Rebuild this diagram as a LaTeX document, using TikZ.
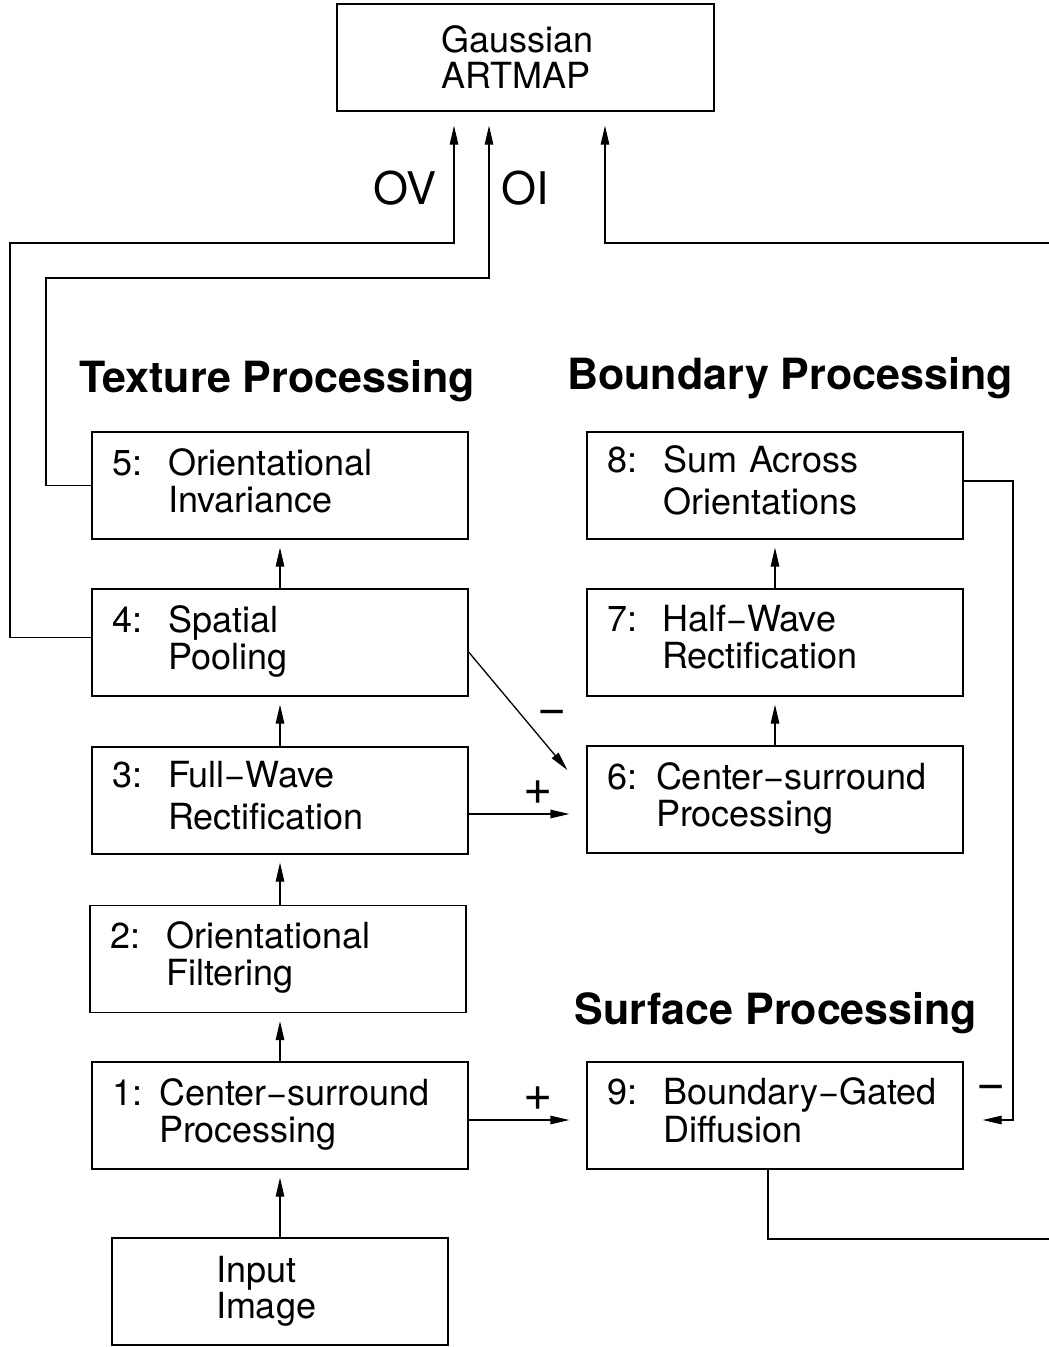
\documentclass[tikz,border=0pt]{standalone}
\usepackage{fontspec}
\setmainfont{TeX Gyre Heros}
\usetikzlibrary{arrows.meta}
\tikzset{>/.tip={Triangle[length=19pt,width=8.5pt]},
  stagebox/.style={draw, line width=1.3pt, text width=336pt, inner xsep=20pt,
    minimum height=107pt, align=left, font=\fontsize{36}{36}\selectfont},
  endbox/.style={draw, line width=1.3pt, inner xsep=104pt, minimum height=107pt,
    align=left, font=\fontsize{36}{36}\selectfont},
  heading/.style={font=\fontsize{43}{43}\selectfont\bfseries},
  tag/.style={font=\fontsize{45}{45}\selectfont},
  sign/.style={font=\fontsize{50}{50}\selectfont, inner sep=0pt},
  flow/.style={->, line width=1.3pt, shorten >=8pt}}
\newcommand{\stage}[4][26pt]{\begin{tabular}{@{}l@{\hspace{#1}}l@{}}#2: & #3\\ & #4\end{tabular}}

\begin{document}
\begin{tikzpicture}[x=1pt, y=-1pt]
\useasboundingbox (0,0) rectangle (1049,1347);

\node[endbox, text width=169pt] (art) at (525.5,57.5) {Gaussian\\ARTMAP};
\node[endbox, text width=128pt] (inp) at (280,1291.5) {Input\\Image};

% texture side
\node[stagebox] (b5) at (280,485.5) {\stage{5}{Orientational}{Invariance}};
\node[stagebox] (b4) at (280,642.5) {\stage{4}{Spatial}{Pooling}};
\node[stagebox] (b3) at (280,800.5) {\stage{3}{Full−Wave}{\rule{0pt}{31pt}Rectification}};
\node[stagebox] (b2) at (278,959)   {\stage{2}{Orientational}{Filtering}};
\node[stagebox] (b1) at (280,1115.5) {\stage[17pt]{1}{Center−surround}{Processing}};

% boundary and surface side
\node[stagebox] (b8) at (775,485.5) {\stage{8}{Sum Across}{\rule{0pt}{31pt}Orientations}};
\node[stagebox] (b7) at (775,642.5) {\stage[25pt]{7}{Half−Wave}{Rectification}};
\node[stagebox] (b6) at (775,799.5) {\stage[19pt]{6}{Center−surround}{Processing}};
\node[stagebox] (b9) at (775,1115.5) {\stage{9}{Boundary−Gated}{Diffusion}};

\node[heading] (tex) at (277,381) {Texture Processing};
\node[heading] (bnd) at (790,378) {Boundary Processing};
\node[heading] (srf) at (776,1013) {Surface Processing};

\node[tag] (ov) at (405,188) {OV};
\node[tag] (oi) at (525,188) {OI};

% upward flow
\draw[flow] (inp) -- (b1);
\draw[flow] (b1.north) -- (b1.north |- b2.south);
\draw[flow] (b3.south |- b2.north) -- (b3.south);
\draw[flow] (b3) -- (b4);
\draw[flow] (b4) -- (b5);
\draw[flow] (b6) -- (b7);
\draw[flow] (b7) -- (b8);

% to the classifier
\draw[flow, shorten >=14pt] ([yshift=5pt]b4.west) -| (10,243) -| ([xshift=-71.5pt]art.south);
\draw[flow, shorten >=14pt] (b5.west) -| (46,278) -| ([xshift=-36.5pt]art.south);
\draw[flow, shorten >=14pt] ([xshift=-7pt]b9.south) |- (1052,1239) -- (1052,243)
  -| ([xshift=79.5pt]art.south);

% cross links
\draw[flow, shorten >=17pt] ([yshift=-13.5pt]b3.east) -- ([yshift=-14.5pt]b6.west)
  node[sign, pos=0.59, above=9pt] {+};
\draw[flow, shorten >=0pt] ([yshift=-9.5pt]b4.east) -- ([xshift=-19pt, yshift=29.5pt]b6.west)
  node[sign, pos=0.55, right=14pt] {−};
\draw[flow, shorten >=17pt] ([yshift=-4.5pt]b1.east) -- ([yshift=-4.5pt]b9.west)
  node[sign, pos=0.59, above=9pt] {+};
\draw[flow, shorten >=19pt] ([yshift=4.5pt]b8.east) -- (1013,481) |- ([yshift=-4.5pt]b9.east)
  node[sign, pos=0.72, above=20pt] {−};
\end{tikzpicture}
\end{document}
